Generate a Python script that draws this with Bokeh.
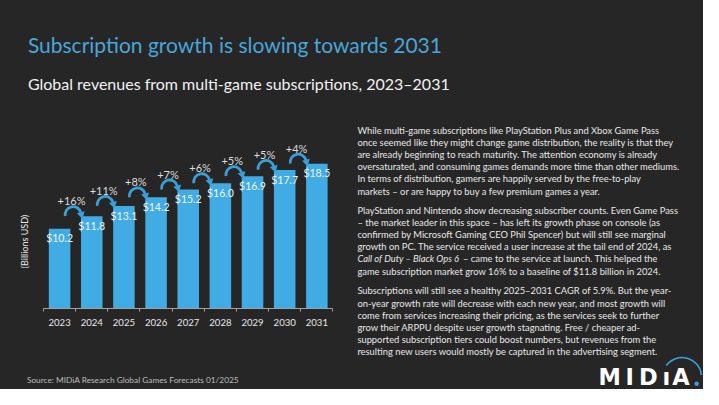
import math
from bokeh.plotting import figure
from bokeh.layouts import column, row
from bokeh.models import FixedTicker, Range1d
from bokeh.embed import file_html
from bokeh.resources import INLINE
from bokeh.core.properties import value

# ---------------- data ----------------
years = [2023, 2024, 2025, 2026, 2027, 2028, 2029, 2030, 2031]
revenue = [10.2, 11.8, 13.1, 14.2, 15.2, 16.0, 16.9, 17.7, 18.5]
value_labels = ["$10.2", "$11.8", "$13.1", "$14.2", "$15.2", "$16.0", "$16.9", "$17.7", "$18.5"]
growth_labels = ["+16%", "+11%", "+8%", "+7%", "+6%", "+5%", "+5%", "+4%"]
year_labels = ["2023", "2024", "2025", "2026", "2027", "2028", "2029", "2030", "2031"]

title = "Subscription growth is slowing towards 2031"
subtitle = "Global revenues from multi-game subscriptions, 2023\u20132031"
y_title = "(Billions USD)"
source_note = "Source: MIDiA Research Global Games Forecasts 01/2025"
logo_letters = ["M", "I", "D", "\u0131", "A"]

para1 = [
    "While multi-game subscriptions like PlayStation Plus and Xbox Game Pass",
    "once seemed like they might change game distribution, the reality is that they",
    "are already beginning to reach maturity. The attention economy is already",
    "oversaturated, and consuming games demands more time than other mediums.",
    "In terms of distribution, gamers are happily served by the free-to-play",
    "markets \u2013 or are happy to buy a few premium games a year.",
]
para2 = [
    "PlayStation and Nintendo show decreasing subscriber counts. Even Game Pass",
    "\u2013 the market leader in this space \u2013 has left its growth phase on console (as",
    "confirmed by Microsoft Gaming CEO Phil Spencer) but will still see marginal",
    "growth on PC. The service received a user increase at the tail end of 2024, as",
    None,
    "game subscription market grow 16% to a baseline of $11.8 billion in 2024.",
]
para2_italic = "Call of Duty \u2013 Black Ops 6"
para2_rest = "\u2013 came to the service at launch. This helped the"
para3 = [
    "Subscriptions will still see a healthy 2025\u20132031 CAGR of 5.9%. But the year-",
    "on-year growth rate will decrease with each new year, and most growth will",
    "come from services increasing their pricing, as the services seek to further",
    "grow their ARPPU despite user growth stagnating. Free / cheaper ad-",
    "supported subscription tiers could boost numbers, but revenues from the",
    "resulting new users would mostly be captured in the advertising segment.",
]

# ---------------- style / layout ----------------
BG = "#262626"
BAR = "#41abe3"
ARC = "#3a9fd8"
TITLE_C = "#4aa5d9"
TEXT_C = "#e8e8e8"
W, H = 703, 389
KX, KY = W / 719, H / 405          # reference px -> page px


def PX(X):
    return X * KX


def PY(Y):
    return Y * KY


HT = 115            # title strip height
WL = 342            # chart column width
HC = 216            # chart figure height
MB = 23             # axis panel height
HS = H - HT - HC    # source strip height
WR = W - WL
HR = H - HT

COMMON = dict(output_backend="svg", toolbar_location=None, min_border=0,
              background_fill_color=None, border_fill_color=BG,
              outline_line_color=None, outline_line_alpha=0, outline_line_width=0)


def text_fig(w, h):
    return figure(width=w, height=h, x_range=Range1d(0, w), y_range=Range1d(0, h),
                  x_axis_type=None, y_axis_type=None, **COMMON)


def put(f, ox, oy, h, Xs, Ys, texts, size, color, font="Lato", align="left",
        baseline="middle", style="normal", angle=0.0):
    f.text(x=[PX(X) - ox for X in Xs], y=[h - (PY(Y) - oy) for Y in Ys], text=texts,
           text_font=value(font), text_font_size=f"{size}px", text_color=color,
           text_align=align, text_baseline=baseline, text_font_style=style, angle=angle)


# ---- title strip ----
T = text_fig(W, HT)
put(T, 0, 0, HT, [28], [46], [title], 21, TITLE_C)
put(T, 0, 0, HT, [28], [86], [subtitle], 16, "#f2f2f2")

# ---- chart ----
frame_h = HC - MB
fb_pic = HT + frame_h                 # frame bottom (axis line) in page px
x_left, x_right = PX(44), PX(340)
pxx = (x_right - x_left) / len(years)
X0 = years[0] - 0.5 - x_left / pxx
X1 = years[0] - 0.5 + (WL - x_left) / pxx
pxy = 8.15 * KY
Y_MAX = frame_h / pxy

C = figure(width=WL, height=HC, x_range=Range1d(X0, X1), y_range=Range1d(0, Y_MAX),
           y_axis_type=None, **COMMON)
C.min_border_bottom = MB
C.xgrid.visible = False
ax = C.xaxis[0]
ax.bounds = (years[0] - 0.5, years[-1] + 0.5)
ax.ticker = FixedTicker(ticks=years, minor_ticks=[y - 0.5 for y in years] + [years[-1] + 0.5])
ax.major_label_overrides = {y: s for y, s in zip(years, year_labels)}
ax.axis_line_color = "#a0a0a0"
ax.axis_line_width = 1
ax.major_tick_line_color = None
ax.major_tick_out = 0
ax.major_tick_in = 0
ax.minor_tick_line_color = "#a0a0a0"
ax.minor_tick_out = 3
ax.minor_tick_in = 0
ax.major_label_standoff = 7
ax.major_label_text_color = TEXT_C
ax.major_label_text_font = "Lato"
ax.major_label_text_font_size = "9.6px"

C.vbar(x=years, top=revenue, width=0.67, fill_color=BAR, line_color=None)

C.text(x=years, y=[v - 10 * KY / pxy for v in revenue], text=value_labels,
       text_align="center", text_baseline="middle", text_font=value("Lato"),
       text_font_size="10.5px", text_color="#eef7fd")

gx = [y + 0.37 for y in years[:-1]]
gy = [v + 16 * KY / pxy for v in revenue[1:]]
C.text(x=gx, y=gy, text=growth_labels, text_align="center", text_baseline="middle",
       text_font=value("Lato"), text_font_size="11px", text_color="#dcdcdc")

R = 8
TH_END = math.radians(15)
cx = [y + 0.42 for y in years[:-1]]
cy = [v + 1.5 / pxy for v in revenue[1:]]
C.arc(x=cx, y=cy, radius=R, radius_units="screen", start_angle=TH_END,
      end_angle=math.radians(190), direction="anticlock", line_color=ARC, line_width=2.8)
tx, ty = math.sin(TH_END), -math.cos(TH_END)
hx = [c + (R * math.cos(TH_END) + 2 * tx) / pxx for c in cx]
hy = [c + (R * math.sin(TH_END) + 2 * ty) / pxy for c in cy]
C.scatter(x=hx, y=hy, marker="triangle", size=8, angle=math.pi + TH_END,
          fill_color=ARC, line_color=None)

# y title inside chart frame (left of the bars)
C.text(x=[X0 + PX(25) / pxx], y=[(fb_pic - PY(251)) / pxy], text=[y_title],
       text_align="center", text_baseline="middle", angle=math.pi / 2,
       text_font=value("Lato"), text_font_size="9px", text_color=TEXT_C)

# ---- source strip ----
S = text_fig(WL, HS)
put(S, 0, HT + HC, HS, [27], [395], [source_note], 8.3, "#bdbdbd")

# ---- right text panel ----
Rf = text_fig(WR, HR)
LH = 12.67
normal_lines, normal_y = [], []
for i, line in enumerate(para1):
    normal_lines.append(line)
    normal_y.append(135 + i * LH)
for i, line in enumerate(para2):
    if line is not None:
        normal_lines.append(line)
        normal_y.append(218.3 + i * LH)
for i, line in enumerate(para3):
    normal_lines.append(line)
    normal_y.append(302.3 + i * LH)
normal_lines.append(para2_rest)
normal_y.append(218.3 + 4 * LH)
normal_x = [365] * (len(normal_lines) - 1) + [473]
put(Rf, WL, HT, HR, normal_x, normal_y, normal_lines, 9.35, TEXT_C)
put(Rf, WL, HT, HR, [365], [218.3 + 4 * LH], [para2_italic], 9.35, TEXT_C, style="italic")

# logo
put(Rf, WL, HT, HR, [623, 643.5, 662.5, 681, 696], [392] * 5, logo_letters, 22.5, "#ffffff",
    font="DejaVu Sans", align="center", style="bold")
Rf.arc(x=[PX(697) - WL], y=[HR - (PY(392) - HT)], radius=19.5, radius_units="screen",
       start_angle=math.radians(6), end_angle=math.radians(144), direction="anticlock",
       line_color=ARC, line_width=1.6)
Rf.scatter(x=[PX(712) - WL], y=[HR - (PY(399) - HT)], marker="circle", size=4.5,
           fill_color=ARC, line_color=None)

layout = column(T, row(column(C, S), Rf))
layout.styles = {"background-color": BG}

html = file_html(layout, INLINE)
html = html.replace("<body>", '<body style="background-color:#262626;">', 1)
open("out.html", "w").write(html)
